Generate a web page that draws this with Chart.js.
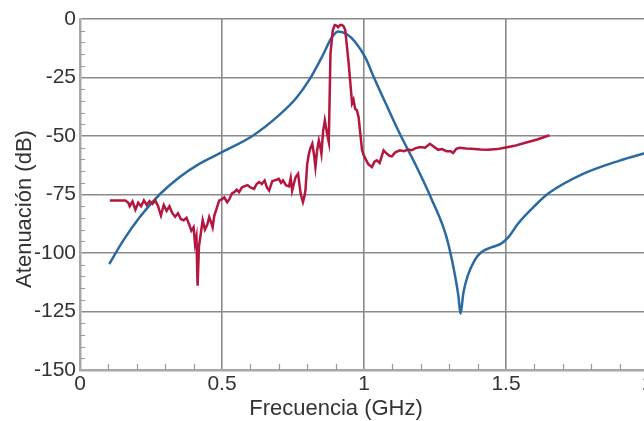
<!DOCTYPE html>
<html><head><meta charset="utf-8">
<script src="https://cdn.jsdelivr.net/npm/chart.js@4.4.1/dist/chart.umd.min.js"></script>
<style>
html,body{margin:0;padding:0;overflow:hidden;background:#fff;width:644px;height:421px}
#wrap{position:absolute;left:0;top:0;width:680px;height:421px}
</style></head>
<body><div id="wrap"><canvas id="c" width="680" height="421"></canvas></div>
<script>
const xTitle = 'Frecuencia (GHz)';
const yTitle = 'Atenuación (dB)';
const xTickValues = [0, 0.5, 1, 1.5, 2];
const xTickLabels = ['0', '0.5', '1', '1.5', '2'];
const yTickValues = [0, -25, -50, -75, -100, -125, -150];
const yTickLabels = ['0', '-25', '-50', '-75', '-100', '-125', '-150'];

const blueFreq = [0.103,0.152,0.21,0.28,0.35,0.42,0.5,0.607,0.70,0.76,0.81,0.855,0.888,0.91,0.94,0.969,1.005,1.035,1.08,1.13,1.18,1.238,1.29,1.318,1.332,1.34,1.35,1.366,1.39,1.413,1.45,1.483,1.51,1.542,1.6,1.65,1.775,1.9,2.0];
const blueDb   = [-104.7,-94.7,-84.7,-75,-67.6,-61.9,-56.9,-50,-41.2,-34,-25.5,-15.5,-7.6,-5.3,-6.5,-9.8,-16.5,-25,-37,-50,-61.9,-77,-93,-108,-118,-126,-117,-109.5,-103,-99.7,-97.5,-96,-93,-87.5,-80,-74.5,-66,-60.5,-57];

const redFreq = [0.105,0.16,0.17,0.175,0.185,0.195,0.205,0.215,0.225,0.235,0.245,0.255,0.265,0.275,0.285,0.295,0.305,0.315,0.325,0.335,0.345,0.355,0.365,0.375,0.385,0.392,0.40,0.405,0.41,0.414,0.419,0.425,0.432,0.44,0.448,0.455,0.462,0.467,0.473,0.479,0.49,0.5,0.508,0.518,0.526,0.535,0.543,0.552,0.56,0.57,0.578,0.59,0.6,0.613,0.622,0.631,0.64,0.65,0.658,0.666,0.677,0.69,0.70,0.708,0.715,0.725,0.736,0.742,0.747,0.754,0.759,0.768,0.772,0.777,0.785,0.79,0.794,0.80,0.806,0.812,0.818,0.824,0.829,0.835,0.841,0.845,0.85,0.856,0.862,0.866,0.87,0.876,0.882,0.89,0.897,0.903,0.909,0.916,0.923,0.929,0.934,0.946,0.958,0.963,0.969,0.975,0.981,0.987,0.993,1.0,1.015,1.028,1.037,1.045,1.055,1.069,1.08,1.09,1.098,1.11,1.127,1.14,1.155,1.168,1.18,1.197,1.215,1.232,1.245,1.261,1.275,1.29,1.305,1.314,1.325,1.337,1.36,1.378,1.41,1.436,1.47,1.495,1.53,1.565,1.61,1.653];
const redDb   = [-77.6,-77.6,-78.5,-80,-78,-81.5,-78.5,-80,-77.5,-79.5,-77.8,-79,-77.5,-80,-84,-79.5,-82,-80,-83,-84.5,-83,-85.5,-86,-85,-88,-90.5,-89,-96,-93,-114,-97,-92,-86,-90,-88,-84.6,-87,-89,-84,-81.8,-77.6,-77,-76.2,-78.3,-77,-74.5,-74,-73,-74,-72,-71.5,-71,-72,-72.6,-70.5,-69.7,-70.5,-69,-72,-73.3,-69.3,-68.8,-68.3,-70,-69,-71,-71.5,-68,-73.3,-70,-67.6,-66.1,-70,-74.7,-78.3,-76,-73,-62,-57.6,-55,-53.3,-58,-63.3,-56,-51.9,-54,-57.6,-48,-43.3,-46,-49,-52.6,-14.7,-4.8,-2.6,-2.8,-3.5,-2.6,-2.6,-3.3,-4.8,-19,-36,-34.5,-38.5,-39,-42,-49,-56,-58.5,-62,-63.3,-61,-60.4,-61.5,-56.1,-57.5,-58.5,-58.7,-57,-56.1,-56.5,-55.8,-56.1,-55.3,-54.7,-55,-53.3,-54.5,-55.9,-55.6,-56.5,-56.5,-57.3,-55.5,-55,-55.3,-55.4,-55.8,-55.9,-55.6,-55,-54.2,-53,-51.5,-49.7];

const toPoints = (xs, ys) => xs.map((x, i) => ({x: x, y: ys[i]}));

const FONT = '"Liberation Sans", Arial, Helvetica, sans-serif';
const TEXT = '#333333';

const decor = {
  id: 'decor',
  beforeDatasetsDraw(chart) {
    const ctx = chart.ctx, xs = chart.scales.x, ys = chart.scales.y;
    const a = chart.chartArea;
    ctx.save();
    ctx.strokeStyle = '#9a9a9a';
    ctx.lineWidth = 1.2;
    ctx.beginPath();
    for (let v = -145; v < 0; v += 5) {
      if (v % 25 === 0) continue;
      const py = Math.round(ys.getPixelForValue(v)) + 0.5;
      ctx.moveTo(a.left, py); ctx.lineTo(a.left + 5, py);
    }
    for (let k = 1; k < 20; k++) {
      if (k % 5 === 0) continue;
      const px = Math.round(xs.getPixelForValue(k / 10)) + 0.5;
      ctx.moveTo(px, a.bottom); ctx.lineTo(px, a.bottom - 6);
    }
    ctx.stroke();
    ctx.restore();
  },
  afterDraw(chart) {
    const ctx = chart.ctx;
    ctx.save();
    ctx.fillStyle = TEXT;
    ctx.font = '22px ' + FONT;
    ctx.textAlign = 'center';
    ctx.textBaseline = 'middle';
    ctx.fillText(xTitle, 336, 409);
    ctx.translate(25, 209);
    ctx.rotate(-Math.PI / 2);
    ctx.fillText(yTitle, 0, 0);
    ctx.restore();
  }
};

new Chart(document.getElementById('c'), {
  type: 'line',
  data: {
    datasets: [
      {label: 'Medida', data: toPoints(redFreq, redDb), borderColor: '#b3163f', borderWidth: 2.5, pointRadius: 0, tension: 0, fill: false},
      {label: 'Simulación', data: toPoints(blueFreq, blueDb), borderColor: '#2a6aa0', borderWidth: 2.5, pointRadius: 0, cubicInterpolationMode: 'monotone', fill: false}
    ]
  },
  options: {
    responsive: false,
    animation: false,
    devicePixelRatio: 1,
    layout: {padding: {left: 0, top: 19, right: 32, bottom: 0}},
    plugins: {legend: {display: false}, tooltip: {enabled: false}},
    scales: {
      x: {
        type: 'linear', min: 0, max: 2,
        afterBuildTicks: s => { s.ticks = xTickValues.map(v => ({value: v})); },
        afterFit: s => { s.height = 51; },
        ticks: {callback: (v) => xTickLabels[xTickValues.indexOf(v)], color: TEXT, font: {family: FONT, size: 21}, padding: 2, maxRotation: 0, autoSkip: false},
        grid: {color: '#8a8a8a', lineWidth: 1.6, drawTicks: false},
        border: {color: '#a8a8a8', width: 2.5}
      },
      y: {
        type: 'linear', min: -150, max: 0,
        afterBuildTicks: s => { s.ticks = yTickValues.map(v => ({value: v})); },
        afterFit: s => { s.width = 80; },
        ticks: {callback: (v) => yTickLabels[yTickValues.indexOf(v)], color: TEXT, font: {family: FONT, size: 21}, padding: 4, autoSkip: false},
        grid: {color: '#8a8a8a', lineWidth: 1.6, drawTicks: false},
        border: {color: '#a8a8a8', width: 2.5}
      }
    }
  },
  plugins: [decor]
});
</script>
</body></html>
